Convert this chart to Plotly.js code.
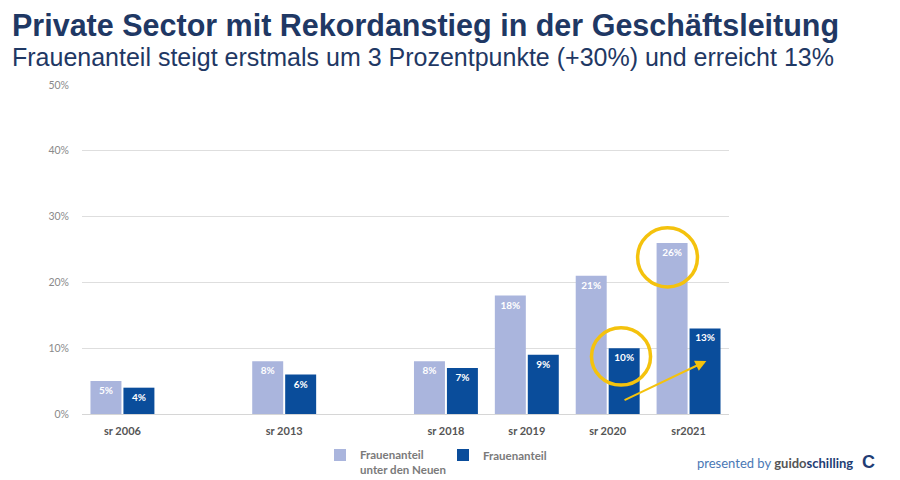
<!DOCTYPE html>
<html>
<head>
<meta charset="utf-8">
<script src="https://cdn.plot.ly/plotly-3.0.1.min.js"></script>
<style>html,body{margin:0;padding:0;background:#fff;}#chart{width:900px;height:480px;}</style>
</head>
<body>
<div id="chart"></div>
<script>
// Categories (blank entries are the empty slots between survey years)
const categories = ['sr 2006', ' ', 'sr 2013', '  ', 'sr 2018', 'sr 2019', 'sr 2020', 'sr2021'];
const shareNewcomers = [5, null, 8, null, 8, 18, 21, 26];   // Frauenanteil unter den Neuen
const shareTotal     = [4, null, 6, null, 7, 9, 10, 13];    // Frauenanteil
const seriesNames = ['Frauenanteil<br>unter den Neuen', 'Frauenanteil'];
const yTickVals = [0, 10, 20, 30, 40, 50];
const yTickText = ['0%', '10%', '20%', '30%', '40%', '50%'];

const labelOf = arr => arr.map(v => v == null ? '' : v + '%');

const lightBlue = '#aab5dd';
const darkBlue = '#0a4d9b';
const yellow = '#f4c20d';

// plot area in pixels: x 82..729, y 85..414
const PL = 82, PR = 729, PT = 85, PB = 414;
const px2paperX = px => (px - PL) / (PR - PL);
const px2paperY = py => (PB - py) / (PB - PT);

const traces = [
  {
    type: 'bar', name: seriesNames[0], x: categories, y: shareNewcomers,
    marker: {color: lightBlue},
    text: labelOf(shareNewcomers), textposition: 'inside', insidetextanchor: 'end',
    textfont: {family: 'Lato, "Open Sans", sans-serif', size: 10, color: '#ffffff', weight: 'bold'},
    cliponaxis: false, hoverinfo: 'skip'
  },
  {
    type: 'bar', name: seriesNames[1], x: categories, y: shareTotal,
    marker: {color: darkBlue},
    text: labelOf(shareTotal), textposition: 'inside', insidetextanchor: 'end',
    textfont: {family: 'Lato, "Open Sans", sans-serif', size: 10, color: '#ffffff', weight: 'bold'},
    cliponaxis: false, hoverinfo: 'skip'
  }
];

const layout = {
  width: 900, height: 480,
  margin: {l: PL, r: 900 - PR, t: PT, b: 480 - PB, autoexpand: false},
  paper_bgcolor: '#ffffff', plot_bgcolor: '#ffffff',
  barmode: 'group', bargap: 0.185, bargroupgap: 0.06,
  showlegend: true,
  legend: {
    orientation: 'h', x: px2paperX(320), y: px2paperY(441), xanchor: 'left', yanchor: 'top',
    font: {family: 'Lato, "Open Sans", sans-serif', size: 11.5, color: '#7a7a7a', weight: 'bold'},
    itemwidth: 30, valign: 'top', traceorder: 'normal',
    entrywidth: 78, entrywidthmode: 'pixels'
  },
  xaxis: {
    type: 'category', categoryorder: 'array', categoryarray: categories,
    range: [-0.5, categories.length - 0.5],
    showgrid: false, zeroline: false, showline: false, ticks: '',
    tickfont: {family: 'Lato, "Open Sans", sans-serif', size: 11, color: '#555555', weight: 'bold'},
    ticklabelstandoff: 9,
    fixedrange: true
  },
  yaxis: {
    range: [0, 50], tickvals: yTickVals, ticktext: yTickText,
    showgrid: true, gridcolor: '#dedede', gridwidth: 1,
    zeroline: true, zerolinecolor: '#d6d6d6', showline: false, ticks: '',
    tickfont: {family: 'Lato, "Open Sans", sans-serif', size: 10.5, color: '#8a8a8a'},
    ticklabelstandoff: 12,
    fixedrange: true
  },
  annotations: [
    {
      xref: 'paper', yref: 'paper', x: px2paperX(10), y: px2paperY(26), xanchor: 'left', yanchor: 'middle',
      text: '<b>Private Sector mit Rekordanstieg in der Geschäftsleitung</b>', showarrow: false,
      font: {family: '"Liberation Sans", Arial, sans-serif', size: 30.5, color: '#1f3864'}
    },
    {
      xref: 'paper', yref: 'paper', x: px2paperX(10), y: px2paperY(57), xanchor: 'left', yanchor: 'middle',
      text: 'Frauenanteil steigt erstmals um 3 Prozentpunkte (+30%) und erreicht 13%', showarrow: false,
      font: {family: '"Liberation Sans", Arial, sans-serif', size: 25, color: '#1f3864'}
    },
    {
      xref: 'x', yref: 'y', axref: 'x', ayref: 'y',
      x: 7.22, y: 8.05, ax: 6.19, ay: 2.0,
      showarrow: true, arrowhead: 2, arrowsize: 1.1, arrowwidth: 2, arrowcolor: yellow, text: ''
    },
    {
      xref: 'paper', yref: 'paper', x: px2paperX(855), y: px2paperY(463), xanchor: 'right', yanchor: 'middle',
      text: '<span style="color:#4a78b5">presented by </span><b><span style="color:#555">guido</span><span style="color:#1f3d74">schilling</span></b>',
      showarrow: false, font: {family: 'Lato, "Open Sans", sans-serif', size: 13}
    },
    {
      xref: 'paper', yref: 'paper', x: px2paperX(868), y: px2paperY(462), xanchor: 'center', yanchor: 'middle',
      text: '<b>C</b>', showarrow: false, font: {family: '"Liberation Sans", Arial, sans-serif', size: 18, color: '#1f3d74'}
    }
  ],
  shapes: [
    {type: 'circle', xref: 'x', yref: 'y', x0: 6.37, x1: 7.11, y0: 19.3, y1: 28.3,
     line: {color: yellow, width: 3.5}},
    {type: 'circle', xref: 'x', yref: 'y', x0: 5.80, x1: 6.53, y0: 4.4, y1: 13.1,
     line: {color: yellow, width: 3.5}}
  ]
};

Plotly.newPlot('chart', traces, layout, {displayModeBar: false, staticPlot: true});
</script>
</body>
</html>
